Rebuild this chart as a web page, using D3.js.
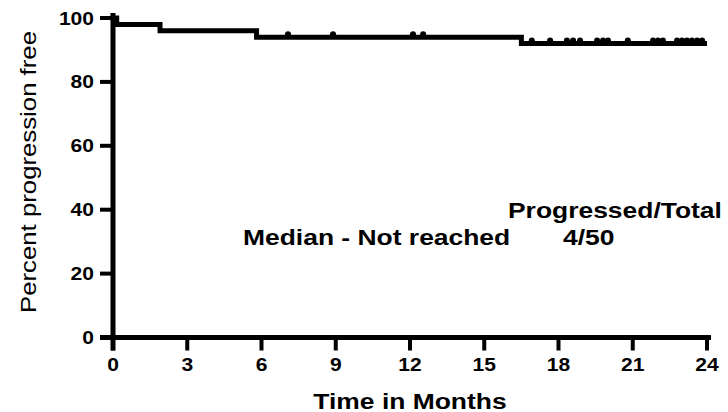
<!DOCTYPE html>
<html>
<head>
<meta charset="utf-8">
<script src="https://cdn.jsdelivr.net/npm/d3@7"></script>
<style>
  html, body { margin: 0; padding: 0; background: #fff; }
  svg { display: block; }
  text { font-family: "Liberation Sans", Arial, Helvetica, sans-serif; fill: #000; }
</style>
</head>
<body>
<svg id="chart" width="728" height="412"></svg>
<script>
// Kaplan-Meier progression-free survival, 50 patients
const stepTimes = [0, 0.15, 1.9, 5.8, 16.5];     // months where the curve steps
const stepValues = [100, 98, 96, 94, 92];         // percent progression free after each step
const curveEnd = 23.9;                            // last follow-up (months)
const censorTimes = [7.07, 8.89, 12.12, 12.53,
  16.92, 17.66, 18.34, 18.59, 18.87, 19.56, 19.8, 20.0, 20.8,
  21.82, 22.02, 22.22, 22.79, 22.99, 23.19, 23.39, 23.6, 23.8];
const xTicks = [0, 3, 6, 9, 12, 15, 18, 21, 24];
const yTicks = [0, 20, 40, 60, 80, 100];
const xTitle = "Time in Months";
const yTitle = "Percent progression free";
const legendHeader = "Progressed/Total";
const legendLabel = "Median - Not reached";
const legendValue = "4/50";

const svg = d3.select("#chart");
const x = d3.scaleLinear().domain([0, 24]).range([113, 707]);
const y = d3.scaleLinear().domain([0, 100]).range([337.5, 18]);

// text helper: lettering widened along its baseline
function label(g, str, px, py, opts) {
  const o = Object.assign({ size: 16, weight: "bold", anchor: "start", rotate: 0, stretch: 1.23 }, opts);
  return g.append("text")
    .attr("transform", `translate(${px},${py}) rotate(${o.rotate}) scale(${o.stretch},1)`)
    .attr("text-anchor", o.anchor)
    .style("font-size", o.size + "px")
    .style("font-weight", o.weight)
    .text(str);
}

// step value at a given time
function survivalAt(t) {
  let v = stepValues[0];
  stepTimes.forEach((st, i) => { if (t >= st) v = stepValues[i]; });
  return v;
}

// axes
const axes = svg.append("g");
axes.append("line").attr("x1", x(0)).attr("x2", x(0))
  .attr("y1", y(0) + 13).attr("y2", y(100) - 5)
  .attr("stroke", "#000").attr("stroke-width", 5);
axes.append("line").attr("x1", x(0) - 13).attr("x2", x(24) + 4)
  .attr("y1", y(0)).attr("y2", y(0))
  .attr("stroke", "#000").attr("stroke-width", 5);

yTicks.forEach(v => {
  axes.append("line").attr("x1", x(0) - 13).attr("x2", x(0))
    .attr("y1", y(v)).attr("y2", y(v))
    .attr("stroke", "#000").attr("stroke-width", 4);
  label(axes, String(v), 94, y(v) + 6.5, { anchor: "end", size: 18, stretch: 1.17 });
});
xTicks.forEach(v => {
  axes.append("line").attr("x1", x(v)).attr("x2", x(v))
    .attr("y1", y(0)).attr("y2", y(0) + 13)
    .attr("stroke", "#000").attr("stroke-width", 4);
  label(axes, String(v), x(v), 371, { anchor: "middle", size: 18, stretch: 1.17 });
});

label(svg, xTitle, 410, 409, { anchor: "middle", size: 21.5 });
label(svg, yTitle, 36, 172, { anchor: "middle", size: 23, weight: "normal", rotate: -90, stretch: 1.12 });

// survival curve
const pts = [];
stepTimes.forEach((t, i) => {
  if (i > 0) pts.push([t, stepValues[i - 1]]);
  pts.push([t, stepValues[i]]);
});
pts.push([curveEnd, stepValues[stepValues.length - 1]]);
const line = d3.line().x(d => x(d[0])).y(d => y(d[1]));
svg.append("path").attr("d", line(pts))
  .attr("fill", "none").attr("stroke", "#000")
  .attr("stroke-width", 5).attr("stroke-linejoin", "miter").attr("stroke-linecap", "square");

// censor marks: small domes sitting on the curve
svg.append("g").selectAll("circle").data(censorTimes).join("circle")
  .attr("cx", d => x(d))
  .attr("cy", d => y(survivalAt(d)) - 3)
  .attr("r", 3)
  .attr("fill", "#000");

// summary text
label(svg, legendHeader, 508, 218, { size: 21.5 });
label(svg, legendLabel, 243, 245, { size: 21.5 });
label(svg, legendValue, 563, 245, { size: 21.5 });
</script>
</body>
</html>
